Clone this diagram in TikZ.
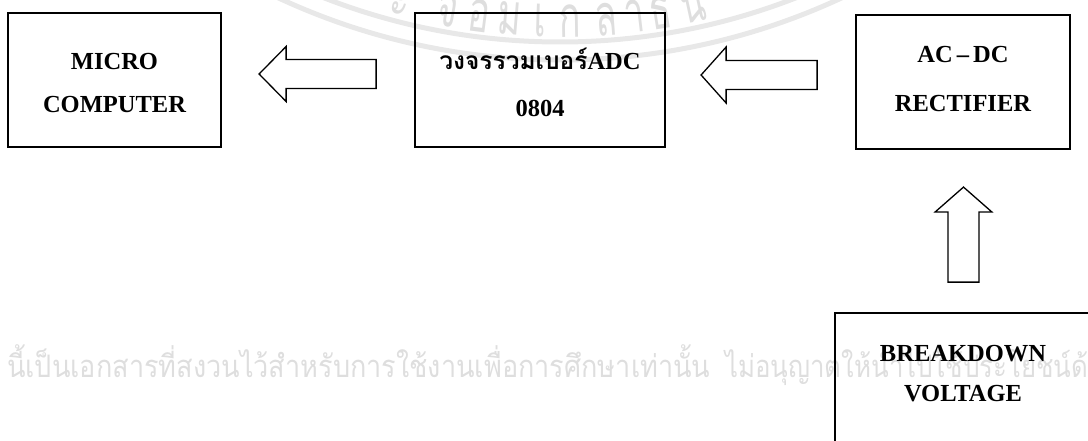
\documentclass[tikz,border=0pt]{standalone}
\usepackage{graphicx}
\usepackage{fontspec}
\setmainfont{Liberation Serif}
\newfontfamily\thai[Script=Thai]{Loma}
\usetikzlibrary{calc}
\begin{document}
\begin{tikzpicture}[x=1pt,y=-1pt,
  box/.style={draw, line width=1.8pt, inner sep=0pt},
  lbl/.style={inner sep=0pt, anchor=base, font=\fontsize{24.5}{24.5}\selectfont\bfseries},
  barrow/.style={draw, line width=1.3pt, line join=miter},
  wm/.style={text=black!13, inner sep=0pt, font=\fontsize{31}{31}\selectfont\thai},
  wmarc/.style={text=black!13, inner sep=0pt, font=\fontsize{58}{58}\selectfont\thai},
  band/.style={draw=black!9, line width=5pt}]
\clip (0,0) rectangle (1088,441);
% watermark
\draw[band] (560,-608) circle[radius=650];
\draw[band] (560,-608) circle[radius=668];
\foreach \ch/\x [count=\i] in {ะ/397, จ/445, อ/477, ม/508, เ/540, ก/570, ล้/607, า/637, ธ/663, น/697}{
  \pgfmathsetmacro\ang{asin((\x-560)/645)}
  \pgfmathsetmacro\yy{-608+645*cos(\ang)}
  \node[wmarc, rotate=\ang, anchor=base] (t\i) at (\x,\yy) {\scalebox{0.62}[1]{\ch}};
}
\node[wm, anchor=base west] (w1) at (7,377) {\resizebox{703pt}{\height}{นี้เป็นเอกสารที่สงวนไว้สำหรับการใช้งานเพื่อการศึกษาเท่านั้น}};
\node[wm, anchor=base west] (w2) at (725,377) {\resizebox{363pt}{\height}{ไม่อนุญาตให้นำไปใช้ประโยชน์ด้}};
% boxes
\node[box, minimum width=213pt, minimum height=134pt] (A) at (114.5,80) {};
\node[box, minimum width=250pt, minimum height=134pt] (B) at (540,80) {};
\node[box, minimum width=214pt, minimum height=134pt] (C) at (963,82) {};
\node[box, minimum width=256pt, minimum height=134pt] (D) at (963,380) {};
% labels
\node[lbl] (A1) at ($(A.north)+(0,57)$) {MICRO};
\node[lbl] (A2) at ($(A.north)+(0,100)$) {COMPUTER};
\node[lbl] (B1) at ($(B.north)+(0,57)$) {{\thai วงจรรวมเบอร์}ADC};
\node[lbl] (B2) at ($(B.north)+(0,104)$) {0804};
\node[lbl] (C1) at ($(C.north)+(0,48)$) {AC\,--\,DC};
\node[lbl] (C2) at ($(C.north)+(0,97)$) {RECTIFIER};
\node[lbl] (D1) at ($(D.north)+(0,49)$) {BREAKDOWN};
\node[lbl] (D2) at ($(D.north)+(0,89)$) {VOLTAGE};
% block arrows (tail anchored to the receiving/sending box)
\coordinate (t1) at ($(B.west)+(-38,-6)$);
\coordinate (t2) at ($(C.west)+(-38,-7)$);
\coordinate (t3) at ($(D.north)+(0.5,-30)$);
\draw[barrow] (t1) ++(0,-14.5) -- ++(-90,0) -- ++(0,-13) -- ++(-27,27.5) -- ++(27,27.5) -- ++(0,-13) -- ++(90,0) -- cycle;
\draw[barrow] (t2) ++(0,-14.5) -- ++(-91,0) -- ++(0,-13.5) -- ++(-25,28) -- ++(25,28) -- ++(0,-13.5) -- ++(91,0) -- cycle;
\draw[barrow] (t3) ++(15.5,0) -- ++(0,-70) -- ++(13,0) -- ++(-28.5,-25) -- ++(-28.5,25) -- ++(13,0) -- ++(0,70) -- cycle;
\end{tikzpicture}
\end{document}
